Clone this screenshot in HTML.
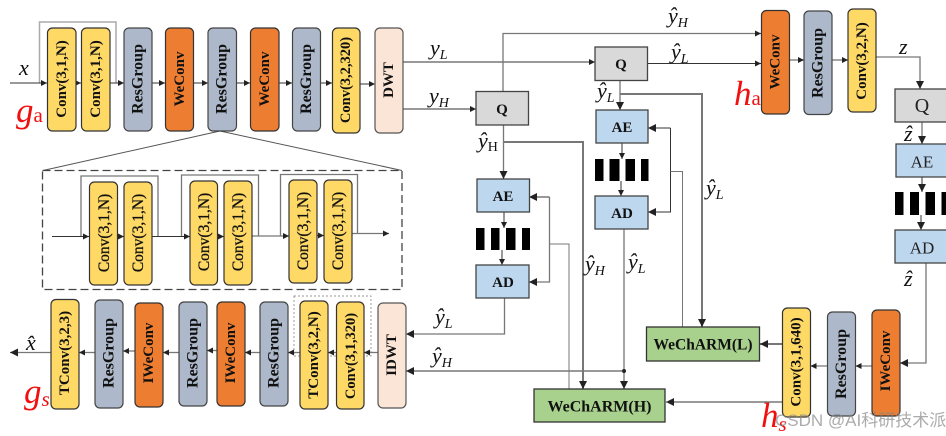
<!DOCTYPE html>
<html><head><meta charset="utf-8">
<style>
html,body{margin:0;padding:0;background:#fff;width:946px;height:436px;overflow:hidden}
svg{display:block}
.b{font-family:"Liberation Serif",serif;font-weight:bold;fill:#111;text-anchor:middle;dominant-baseline:central}
.n{font-family:"Liberation Serif",serif;fill:#222;text-anchor:middle;dominant-baseline:central}
.i{font-family:"Liberation Serif",serif;fill:#111;stroke:#111;stroke-width:.3;text-anchor:middle;dominant-baseline:central}
.m{font-family:"Liberation Serif",serif;font-style:italic;fill:#111;font-size:22px}
.s{font-size:14px}
.r{font-family:"Liberation Serif",serif;font-style:italic;fill:#f01010;font-size:35px}
.l{stroke:#333;stroke-width:1;fill:none}
.g{stroke:#777;stroke-width:1.3;fill:none}
.t{stroke:#777;stroke-width:2;fill:none}
.y{fill:#ffd966;stroke:#333;stroke-width:1.2}
.a{fill:#adb9ca;stroke:#444;stroke-width:1.2}
.o{fill:#ed7d31;stroke:#333;stroke-width:1.2}
.p{fill:#fbe5d6;stroke:#555;stroke-width:1.2}
.q{fill:#d9d9d9;stroke:#444;stroke-width:1.3}
.u{fill:#bdd7ee;stroke:#444;stroke-width:1.3}
.e{fill:#a9d18e;stroke:#333;stroke-width:1.3}
</style></head><body>
<svg width="946" height="436" viewBox="0 0 946 436" xmlns="http://www.w3.org/2000/svg">
<defs>
<marker id="h" markerWidth="8" markerHeight="8" refX="6" refY="3" orient="auto" markerUnits="userSpaceOnUse"><path d="M0 0L6 3L0 6z" fill="#222"/></marker>
<marker id="H" markerWidth="10" markerHeight="10" refX="8" refY="4" orient="auto" markerUnits="userSpaceOnUse"><path d="M0 0L8 4L0 8z" fill="#222"/></marker>
</defs>

<!-- top row connectors -->
<path class="g" style="stroke:#aaa;stroke-width:1.5" d="M39.500 83V22H116V83"/>
<g class="l">
<path d="M10 83H47" marker-end="url(#h)"/><path d="M76 83H81" marker-end="url(#h)"/><path d="M110 83H124" marker-end="url(#h)"/>
<path d="M152 83H165" marker-end="url(#h)"/><path d="M193 83H208" marker-end="url(#h)"/><path d="M236 83H250" marker-end="url(#h)"/>
<path d="M279 83H292" marker-end="url(#h)"/><path d="M320 83H332" marker-end="url(#h)"/><path d="M360 84H375" marker-end="url(#h)"/>
<path d="M403 109H476" marker-end="url(#h)"/><path d="M403 62H595" marker-end="url(#h)"/>
</g>
<path d="M220 131L43 170.500M220 131L402 170.500" stroke="#555" fill="none"/>

<!-- boxes top -->
<rect class="y" x="47.500" y="28" width="28.500" height="103" rx="5"/>
<rect class="y" x="81.500" y="28" width="28.500" height="103" rx="5"/>
<rect class="a" x="124" y="28" width="28" height="103" rx="5"/>
<rect class="o" x="165.500" y="28" width="28" height="103" rx="5"/>
<rect class="a" x="208" y="28" width="28.500" height="103" rx="5"/>
<rect class="o" x="250.500" y="28" width="28.500" height="103" rx="5"/>
<rect class="a" x="292.500" y="28" width="28" height="103" rx="5"/>
<rect class="y" x="332.500" y="28" width="27.500" height="105" rx="5"/>
<rect class="p" x="375" y="28" width="28" height="105" rx="5"/>
<g class="b" font-size="15">
<text transform="translate(62 79) rotate(-90)">Conv(3,1,N)</text>
<text transform="translate(96 79) rotate(-90)">Conv(3,1,N)</text>
<text transform="translate(138 79) rotate(-90)" font-size="16">ResGroup</text>
<text transform="translate(180 79) rotate(-90)" font-size="15">WeConv</text>
<text transform="translate(222 79) rotate(-90)" font-size="16">ResGroup</text>
<text transform="translate(265 79) rotate(-90)">WeConv</text>
<text transform="translate(306.500 79) rotate(-90)" font-size="16">ResGroup</text>
<text transform="translate(346 80) rotate(-90)" font-size="14.500">Conv(3,2,320)</text>
<text transform="translate(389 80) rotate(-90)" font-size="15">DWT</text>
</g>

<!-- inner resgroup -->
<rect x="42.500" y="170.500" width="359.500" height="119" fill="none" stroke="#444" stroke-width="1.300" stroke-dasharray="8 4"/>
<path class="g" d="M81 236V176H158V236"/><path class="g" d="M181.500 236V175H258.500V236"/><path class="g" d="M280.500 236V174.500H357.500V234"/>
<path class="l" d="M52 236.500H89" marker-end="url(#h)"/><path class="l" d="M117.500 236.500H124" marker-end="url(#h)"/>
<path class="l" d="M152 236.500H190" marker-end="url(#h)"/><path class="l" d="M217.500 236.500H224" marker-end="url(#h)"/>
<path class="g" d="M252 236H289" marker-end="url(#h)"/><path class="l" d="M317 235.500H324" marker-end="url(#h)"/>
<path class="g" d="M352 233.500H389" marker-end="url(#h)"/>
<rect class="y" x="89.500" y="182" width="28" height="103" rx="5"/>
<rect class="y" x="124" y="182" width="28" height="103" rx="5"/>
<rect class="y" x="190" y="181" width="27.500" height="104" rx="5"/>
<rect class="y" x="224" y="181" width="28" height="104" rx="5"/>
<rect class="y" x="289" y="180" width="28" height="103" rx="5"/>
<rect class="y" x="324" y="180" width="28" height="103" rx="5"/>
<g class="i" font-size="15.500">
<text transform="translate(104.500 233) rotate(-90)">Conv(3,1,N)</text>
<text transform="translate(138.500 233) rotate(-90)">Conv(3,1,N)</text>
<text transform="translate(204.500 232) rotate(-90)">Conv(3,1,N)</text>
<text transform="translate(238.500 232) rotate(-90)">Conv(3,1,N)</text>
<text transform="translate(303.500 231) rotate(-90)">Conv(3,1,N)</text>
<text transform="translate(338.500 231) rotate(-90)">Conv(3,1,N)</text>
</g>

<!-- bottom row -->
<rect x="294" y="296" width="77" height="60" fill="none" stroke="#776" stroke-width="0.700" stroke-dasharray="2 2"/>
<g class="g">
<path d="M51 352.500H10" marker-end="url(#H)"/><path d="M95 352.500H79" marker-end="url(#h)"/><path d="M135 351H123" marker-end="url(#h)"/>
<path d="M179 352.500H163" marker-end="url(#h)"/><path d="M217 350.500H207" marker-end="url(#h)"/><path d="M260 352.500H245" marker-end="url(#h)"/>
<path d="M300 352.500H288" marker-end="url(#h)"/><path d="M336 352.500H328" marker-end="url(#h)"/><path d="M378 352.500H364" marker-end="url(#h)"/>
</g>
<rect class="y" x="51" y="299.500" width="28" height="109.500" rx="5"/>
<rect class="a" x="95" y="300" width="28" height="108" rx="5"/>
<rect class="o" x="135" y="303" width="28" height="104" rx="5"/>
<rect class="a" x="179" y="302" width="28" height="104" rx="5"/>
<rect class="o" x="217" y="302" width="28" height="104" rx="5"/>
<rect class="a" x="260" y="302" width="28" height="104" rx="5"/>
<rect class="y" x="300" y="301" width="28" height="108" rx="5"/>
<rect class="y" x="336.500" y="302" width="27.500" height="107" rx="5"/>
<rect class="p" x="378" y="303" width="28" height="105" rx="5"/>
<g class="b" font-size="15">
<text transform="translate(65 353) rotate(-90)">TConv(3,2,3)</text>
<text transform="translate(109 353) rotate(-90)" font-size="16">ResGroup</text>
<text transform="translate(149 353) rotate(-90)">IWeConv</text>
<text transform="translate(193 353) rotate(-90)" font-size="16">ResGroup</text>
<text transform="translate(231 353) rotate(-90)">IWeConv</text>
<text transform="translate(274 353) rotate(-90)" font-size="16">ResGroup</text>
<text transform="translate(314 355) rotate(-90)">TConv(3,2,N)</text>
<text transform="translate(351 356) rotate(-90)" font-size="14.500">Conv(3,1,320)</text>
<text transform="translate(392 355) rotate(-90)" font-size="15">IDWT</text>
</g>

<!-- middle connectors -->
<path class="g" d="M503 91.500V33.500H761" marker-end="url(#h)"/>
<path class="l" d="M647 63.500H761" marker-end="url(#h)"/>
<path class="g" d="M620 80.500V110" marker-end="url(#H)"/>
<path class="t" d="M620 94H702V327" marker-end="url(#H)"/>
<path class="l" d="M622 143V159" marker-end="url(#h)"/>
<path class="l" d="M621 181V196" marker-end="url(#h)"/>
<path class="l" d="M670.500 128H648" marker-end="url(#H)"/>
<path class="l" d="M670.500 128V212H648" marker-end="url(#H)"/>
<path class="g" d="M670.500 171.500H682.500V327" style="stroke-width:1"/>
<path class="g" d="M624 229V389" marker-end="url(#H)"/>
<circle cx="624" cy="371" r="2" fill="#222"/>
<path class="l" d="M624 371H406" marker-end="url(#H)"/>
<path class="g" d="M504.500 298V334H406" marker-end="url(#H)"/>
<path class="g" d="M503.500 125V179" marker-end="url(#H)"/>
<path class="t" d="M503.500 142H583V389" marker-end="url(#H)"/>
<path class="l" d="M549.500 197H529" marker-end="url(#H)"/>
<path class="g" d="M549.500 197V282H529" marker-end="url(#H)"/>
<path class="g" d="M549.500 244H569V389" style="stroke-width:1"/>
<path class="l" d="M504 212V228" marker-end="url(#h)"/>
<path class="l" d="M502 250V265" marker-end="url(#h)"/>

<rect class="q" x="476" y="91.500" width="52.500" height="33.500"/>
<rect class="q" x="595" y="47" width="52.500" height="33.500"/>
<rect class="u" x="596" y="110" width="52" height="33"/>
<rect class="u" x="595" y="196" width="53" height="33"/>
<rect class="u" x="477" y="179" width="52.500" height="33"/>
<rect class="u" x="476" y="265" width="53" height="33"/>
<rect x="595" y="159" width="53.500" height="22" fill="#000"/>
<path d="M603.500 159h6v22h-6zM619.500 159h6v22h-6zM635 159h6v22h-6z" fill="#fff"/>
<rect x="476" y="228" width="54" height="22" fill="#000"/>
<path d="M484.500 228h6.500v22h-6.500zM499.500 228h6.500v22h-6.500zM515.500 228h6.500v22h-6.500z" fill="#fff"/>
<g class="b" font-size="15">
<text x="502" y="110">Q</text><text x="621" y="65">Q</text>
<text x="622" y="128">AE</text><text x="622" y="214">AD</text>
<text x="503" y="197">AE</text><text x="503" y="283">AD</text>
</g>

<!-- right part -->
<path class="g" d="M789 60H804" marker-end="url(#h)"/>
<path class="g" d="M832 60H848" marker-end="url(#h)"/>
<path class="g" d="M876 57H920V89" marker-end="url(#H)"/>
<path class="g" d="M922 122V144" marker-end="url(#H)"/>
<path class="l" d="M922 177V192" marker-end="url(#H)"/>
<path class="l" d="M921 215V230" marker-end="url(#H)"/>
<path class="g" d="M926 263V363H900" marker-end="url(#H)"/>
<path class="g" d="M872 366H855.500" marker-end="url(#h)"/>
<path class="g" d="M827.500 366H810.500" marker-end="url(#h)"/>
<path class="t" d="M782.500 344H760" marker-end="url(#H)"/>
<path class="l" d="M782.500 402H666" marker-end="url(#H)"/>

<rect class="o" x="761.500" y="10.500" width="28" height="103.500" rx="5"/>
<rect class="a" x="804" y="11" width="28" height="103.500" rx="5"/>
<rect class="y" x="848" y="9" width="28" height="103" rx="5"/>
<rect class="q" x="895" y="89" width="53" height="33"/>
<rect class="u" x="896" y="144" width="52" height="33"/>
<rect x="895" y="192" width="53" height="23" fill="#000"/>
<path d="M903.500 192h6.500v23h-6.500zM919 192h6.500v23H919zM935 192h6.500v23H935z" fill="#fff"/>
<rect class="u" x="895" y="230" width="53" height="33"/>
<rect class="o" x="872" y="310" width="28" height="106" rx="5"/>
<rect class="a" x="827.500" y="312" width="28" height="104" rx="5"/>
<rect class="y" x="782.500" y="308" width="28" height="109" rx="5"/>
<rect class="e" x="646.500" y="327" width="113" height="34"/>
<rect class="e" x="534" y="389" width="131" height="33"/>
<g class="b" font-size="15">
<text transform="translate(775.500 62) rotate(-90)">WeConv</text>
<text transform="translate(818 63) rotate(-90)" font-size="16">ResGroup</text>
<text transform="translate(862 61) rotate(-90)" font-size="15">Conv(3,2,N)</text>
<text transform="translate(886 361) rotate(-90)">IWeConv</text>
<text transform="translate(841.500 364) rotate(-90)" font-size="16">ResGroup</text>
<text transform="translate(796.500 362) rotate(-90)" font-size="15">Conv(3,1,640)</text>
<text x="703" y="345" font-size="15.500">WeChARM(L)</text>
<text x="599.500" y="407" font-size="16">WeChARM(H)</text>
</g>
<g class="n" font-size="17">
<text x="922" y="106" font-size="20">Q</text>
<text x="922" y="162">AE</text>
<text x="922" y="248">AD</text>
</g>

<!-- math labels -->
<g class="m">
<text x="19" y="75">x</text>
<text x="430" y="55">y<tspan class="s" dy="4">L</tspan></text>
<text x="429" y="103">y<tspan class="s" dy="4">H</tspan></text>
<text x="668" y="23">ŷ<tspan class="s" dy="4">H</tspan></text>
<text x="671" y="59">ŷ<tspan class="s" dy="4">L</tspan></text>
<text x="597" y="98">ŷ<tspan class="s" dy="4">L</tspan></text>
<text x="478" y="148">ŷ<tspan class="s" dy="3" style="font-style:normal">H</tspan></text>
<text x="706" y="195">ŷ<tspan class="s" dy="4">L</tspan></text>
<text x="585" y="271">ŷ<tspan class="s" dy="4">H</tspan></text>
<text x="628" y="269">ŷ<tspan class="s" dy="4">L</tspan></text>
<text x="435" y="324">ŷ<tspan class="s" dy="4">L</tspan></text>
<text x="432" y="363">ŷ<tspan class="s" dy="4">H</tspan></text>
<text x="26" y="350">x̂</text>
<text x="899" y="54">z</text>
<text x="904" y="141">ẑ</text>
<text x="904" y="286">ẑ</text>
</g>
<text class="r" x="16" y="122">g<tspan font-size="21" style="font-style:normal">a</tspan></text>
<text class="r" x="24" y="403">g<tspan dy="3" font-size="21">s</tspan></text>
<text class="r" x="734" y="105">h<tspan font-size="21" style="font-style:normal">a</tspan></text>
<text class="r" x="761" y="427">h<tspan dy="4" font-size="21">s</tspan></text>
<text x="775" y="426" font-family="'Liberation Sans','Noto Sans CJK SC',sans-serif" font-size="17" fill="#888" fill-opacity="0.7">CSDN @AI科研技术派</text>
</svg>
</body></html>
